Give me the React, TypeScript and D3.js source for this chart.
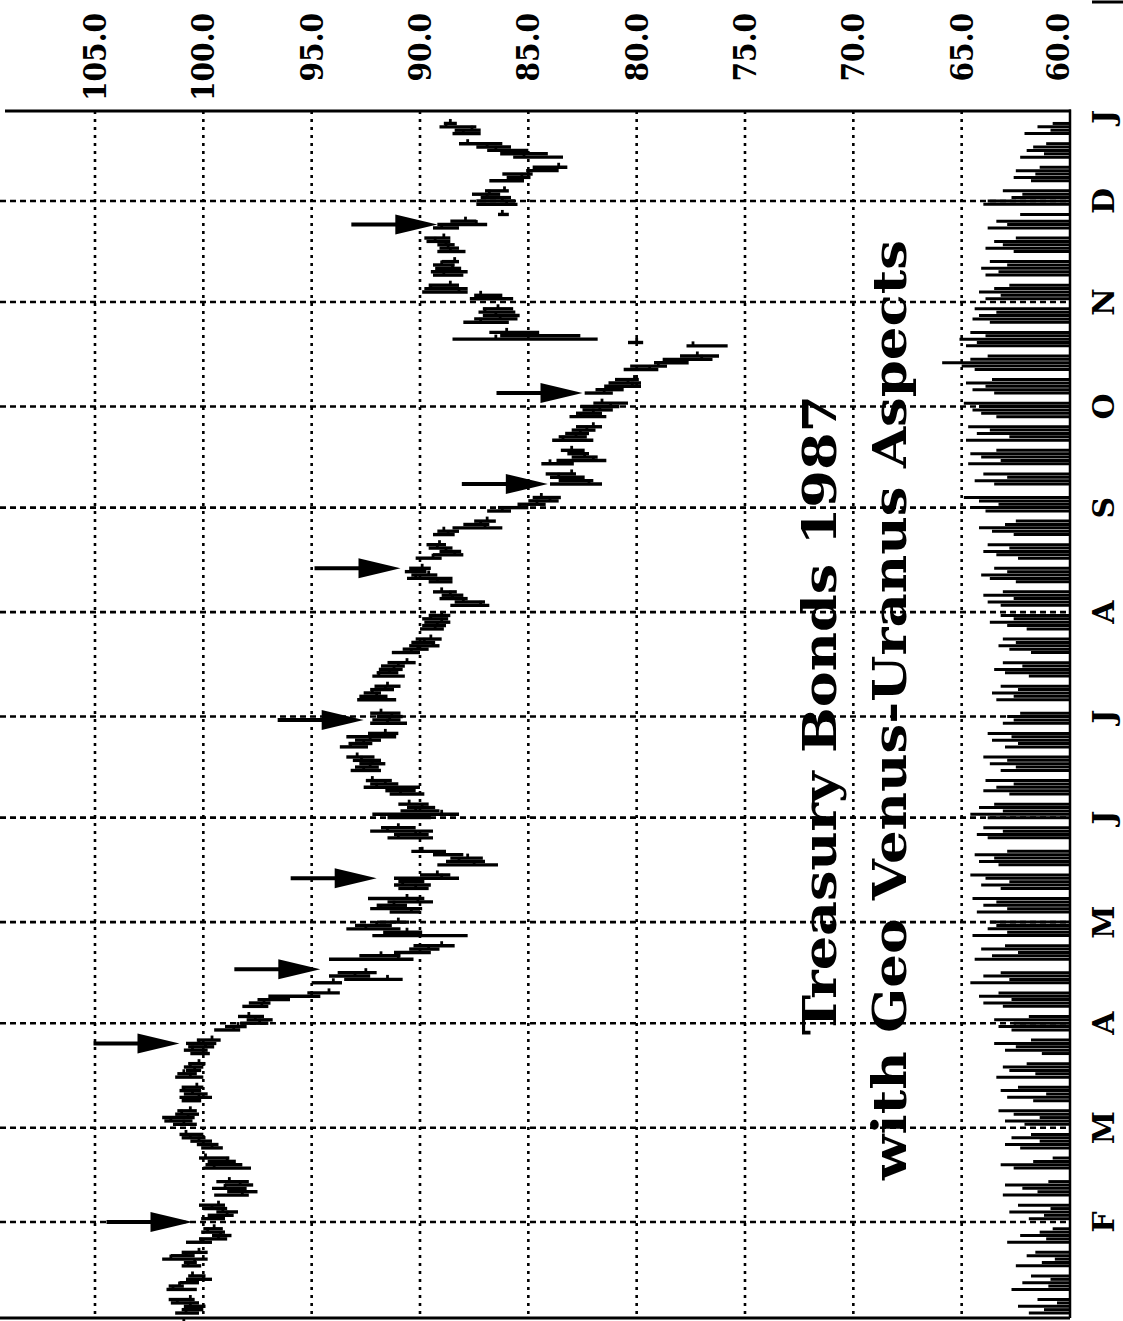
import React from "react";
import * as d3 from "d3";

const W = 1123;
const H = 1321;

const priceTicks = [105, 100, 95, 90, 85, 80, 75, 70, 65, 60];
const monthLetters = ["J", "F", "M", "A", "M", "J", "J", "A", "S", "O", "N", "D", "J"];
const holidays = ["1987-01-01", "1987-02-16", "1987-04-17", "1987-05-25", "1987-07-03", "1987-09-07", "1987-11-26", "1987-12-25"];
const firstDay = "1987-01-02";
const lastDay = "1987-12-24";
const titleLines = ["Treasury Bonds 1987", "with Geo Venus-Uranus Aspects"];

// daily bars per month: [low, high, close]
const jan = [[100.5,101.2,100.9],[100.2,101.3,100.8],[100.0,101.0,100.3],[99.9,100.9,100.6],[100.2,101.5,101.2],[100.4,101.6,100.6],[100.3,101.7,101.4],[100.9,101.6,101.1],[100.2,101.1,100.4],[99.6,100.8,100.0],[99.9,100.7,100.5],[100.1,101.0,100.7],[100.3,100.9,100.4],[99.8,101.9,101.5],[100.4,101.5,100.8],[99.8,101.0,100.2],[99.6,100.8,100.1],[98.9,100.2,99.3],[98.7,99.6,99.2],[99.0,100.1,99.8],[99.1,100.0,99.5]];
const feb = [[99.0,100.1,99.4],[98.6,99.8,98.9],[98.4,99.4,99.1],[98.9,100.0,99.6],[99.0,100.2,99.3],[97.9,99.5,98.2],[97.5,98.9,98.7],[98.0,99.6,99.0],[97.7,99.0,98.3],[97.9,99.4,98.8],[97.8,100.0,99.5],[98.2,99.9,99.7],[98.5,99.8,98.9],[98.8,100.2,99.9],[99.1,100.1,99.6],[99.3,100.3,100.0],[99.6,100.6,100.2],[99.9,101.0,100.6],[100.0,101.1,100.8]];
const mar = [[100.3,101.4,100.9],[100.5,101.8,101.5],[100.4,101.9,100.7],[100.2,101.3,101.0],[100.3,101.2,100.6],[100.1,101.0,100.8],[99.6,101.1,100.2],[99.8,100.9,100.5],[100.1,101.1,100.9],[100.0,101.0,100.3],[100.0,101.3,100.6],[100.3,101.2,100.9],[100.1,100.8,100.4],[100.0,100.9,100.6],[99.9,100.7,100.2],[99.7,100.6,100.0],[99.8,100.9,100.5],[99.5,100.7,99.9],[99.4,100.8,100.2],[99.2,100.3,99.6],[98.3,99.5,98.6],[98.0,99.0,98.4]];
const apr = [[97.0,98.3,97.4],[96.8,98.0,97.6],[97.2,98.4,97.9],[97.0,98.2,97.3],[96.9,97.9,97.2],[96.0,97.5,96.3],[94.6,97.0,95.0],[93.7,95.2,94.2],[93.6,95.0,94.0],[90.8,93.5,91.5],[92.3,94.2,93.0],[92.0,93.8,92.5],[90.3,94.2,91.0],[90.9,92.8,91.8],[89.5,91.2,90.0],[89.1,90.5,89.6],[88.4,90.3,89.0],[87.8,92.2,90.8],[89.9,91.7,90.6],[90.9,93.4,92.5],[91.3,93.0,92.0]];
const may = [[90.5,92.0,91.0],[90.0,91.4,90.4],[89.9,92.3,91.8],[90.6,92.0,91.2],[89.4,91.5,90.1],[89.8,92.4,90.6],[89.6,91.0,90.2],[89.5,91.2,90.8],[89.8,91.0,90.0],[88.2,91.2,89.0],[88.6,90.0,89.2],[86.4,89.2,87.5],[87.0,88.8,88.2],[87.1,88.6,87.8],[88.0,89.4,89.0],[88.8,90.4,89.9],[89.4,91.5,91.0],[89.6,91.2,90.2],[89.4,92.3,91.5],[90.2,91.8,91.0]];
const jun = [[89.5,91.5,90.8],[88.2,92.2,89.0],[89.1,90.9,90.2],[89.3,90.6,89.9],[89.6,91.0,90.5],[89.8,91.4,90.9],[90.2,91.6,91.2],[90.0,92.6,92.0],[91.0,92.3,91.6],[91.3,92.5,92.2],[91.8,93.2,92.6],[91.9,93.0,92.3],[91.6,92.8,92.2],[91.8,93.1,92.7],[92.1,93.4,92.9],[92.4,93.7,93.2],[92.2,93.3,92.6],[91.8,93.0,92.3],[91.1,93.4,91.7],[91.0,92.4,91.6],[90.6,92.3,91.5],[90.9,92.2,91.4]];
const jul = [[90.8,92.0,91.3],[90.9,92.3,91.8],[91.1,92.9,92.4],[91.5,92.8,92.0],[91.8,92.6,92.2],[91.2,92.3,91.6],[90.9,92.1,91.5],[90.7,92.2,91.9],[91.0,92.0,91.4],[90.8,91.9,91.2],[90.7,91.8,91.0],[90.2,91.5,90.6],[90.0,91.3,90.4],[89.6,90.8,90.1],[89.1,90.5,89.4],[89.3,90.4,89.8],[89.0,90.2,89.5],[88.9,90.0,89.3],[88.8,89.9,89.2],[88.6,89.8,89.0],[88.7,89.9,89.5],[88.6,89.6,89.0]];
const aug = [[86.8,88.6,87.2],[87.0,88.4,88.0],[87.8,89.1,88.5],[88.0,89.0,88.6],[88.3,89.4,89.0],[88.5,89.6,89.2],[88.5,90.6,90.2],[89.2,90.4,89.6],[89.7,90.7,90.3],[89.5,90.5,89.9],[89.0,90.2,89.4],[88.0,89.4,88.4],[88.1,89.1,88.8],[88.5,89.6,89.2],[88.8,89.7,89.1],[88.4,89.4,88.7],[88.2,89.2,88.9],[86.2,88.5,87.0],[86.8,88.0,87.2],[86.5,87.5,86.9],[85.8,86.9,86.2]];
const sep = [[85.0,86.4,85.4],[84.2,85.5,84.6],[83.6,85.0,84.0],[83.5,84.8,84.4],[81.6,84.0,82.2],[82.0,83.6,83.2],[82.4,84.0,83.6],[82.8,84.2,83.0],[82.9,84.4,84.0],[81.4,83.7,82.0],[81.8,83.0,82.4],[82.2,83.2,82.7],[82.4,83.5,83.0],[82.0,83.9,83.4],[82.3,83.6,82.8],[82.2,83.3,82.6],[81.9,83.0,82.3],[81.6,82.8,82.0],[81.4,83.1,82.6],[81.6,82.8,82.0],[81.1,82.5,81.7]];
const oct = [[80.8,82.6,81.2],[80.4,82.0,81.6],[81.1,82.4,81.5],[80.6,81.9,81.0],[79.8,81.5,80.2],[79.8,81.3,80.4],[79.9,81.0,80.1],[79.0,80.6,79.4],[78.6,80.3,79.0],[77.6,79.2,77.8],[76.5,78.8,77.0],[76.2,78.0,77.2],[75.8,77.7,77.4],[79.7,80.4,80.0],[81.8,88.5,86.5],[82.6,86.3,85.0],[84.5,86.8,86.0],[85.9,88.0,87.2],[85.5,87.5,86.3],[85.4,87.1,86.5],[85.6,87.3,87.0],[85.7,87.1,86.4]];
const nov = [[85.7,87.7,86.5],[86.2,87.5,87.2],[87.8,89.9,88.2],[87.8,89.8,89.5],[88.2,89.6,88.6],[88.0,89.4,88.9],[87.8,89.5,89.2],[88.1,89.3,88.5],[88.4,89.4,89.0],[88.2,89.0,88.4],[87.9,89.2,88.6],[88.2,89.1,88.7],[88.4,89.2,88.8],[88.6,89.7,89.3],[88.6,89.8,88.9],[88.2,89.4,89.0],[86.9,89.2,87.4],[87.4,88.6,87.9],[85.9,86.4,86.2],[85.5,87.4,86.0]];
const dec = [[85.6,87.4,86.2],[85.8,87.2,86.9],[86.3,87.6,86.8],[85.9,87.0,86.1],[85.2,86.8,85.6],[84.9,86.0,85.3],[84.8,86.2,85.0],[83.6,85.1,84.0],[83.2,84.8,83.6],[83.4,85.7,85.2],[84.1,86.3,85.9],[85.0,86.9,86.5],[85.8,87.4,86.9],[86.2,88.2,87.8],[87.2,88.5,88.0],[87.2,88.4,87.6],[87.4,89.1,88.8],[88.3,88.9,88.6]];
const monthBars = [jan, feb, mar, apr, may, jun, jul, aug, sep, oct, nov, dec];

// lower panel indicator (left end of each line, on the price scale)
const indJan = [60.8,61.9,61.2,62.4,60.6,61.5,62.7,61.0,62.2,60.9,61.8,62.5,61.3,60.7,62.0,61.6,62.9,61.1,62.3,61.4,60.8];
const indFeb = [61.9,61.2,62.8,60.9,62.4,63.1,61.5,62.2,63.0,61.0,62.6,63.2,61.7,60.8,62.3,63.0,61.4,62.7,61.8];
const indMar = [62.1,63.0,61.4,62.6,63.3,61.7,62.9,61.1,63.2,62.4,63.4,61.6,62.8,63.1,62.0,61.3,63.0,62.5,63.5,61.8,62.7,63.3];
const indApr = [62.6,63.5,61.9,63.1,64.0,62.7,64.2,63.3,64.6,62.8,64.0,63.2,64.4,63.6,62.4,64.1,63.0,64.5,62.9,63.8,63.4];
const indMay = [63.7,64.3,62.9,64.0,63.4,64.5,63.2,64.1,62.8,63.9,64.6,63.3,64.2,63.5,64.4,62.9,63.8,64.3,63.1,64.0];
const indJun = [63.8,64.6,63.1,64.2,63.5,62.8,64.0,63.4,62.6,63.9,63.2,62.5,63.7,62.9,64.0,63.0,62.4,63.6,62.7,63.8,63.1,62.6];
const indJul = [62.9,62.3,63.4,62.6,63.6,62.4,63.2,61.9,63.0,63.5,62.2,63.1,61.8,62.8,63.3,62.5,63.1,62.0,62.9,63.7,62.6,63.2];
const indAug = [63.2,63.8,62.6,64.0,63.1,62.5,63.7,64.1,62.9,63.5,62.4,63.4,64.0,62.8,63.8,62.6,63.6,64.2,63.0,62.5,63.9];
const indSep = [64.6,63.3,64.2,64.9,63.5,64.4,62.9,64.0,64.7,63.2,64.1,64.6,63.4,64.8,62.8,64.3,63.7,64.7,63.4,64.1,64.5];
const indOct = [64.2,64.9,63.5,64.5,63.9,64.8,63.6,64.4,65.0,65.9,64.6,63.8,64.8,64.3,65.1,63.9,64.6,63.7,64.5,64.2,63.4,64.4];
const indNov = [63.9,63.2,64.2,63.5,62.8,63.9,63.3,64.1,62.9,63.7,62.6,63.9,63.1,63.5,62.5,63.8,62.9,63.4,62.3,64.0];
const indDec = [63.8,62.7,62.2,63.1,61.8,62.6,61.6,62.5,61.4,62.3,61.2,62.0,61.7,61.1,62.1,60.9,61.5,60.8];
const monthInd = [indJan, indFeb, indMar, indApr, indMay, indJun, indJul, indAug, indSep, indOct, indNov, indDec];

// aspect arrows: date, price at the arrow tip
const arrowDates = ["1987-02-01", "1987-03-26", "1987-04-17", "1987-05-14", "1987-06-30", "1987-08-14", "1987-09-08", "1987-10-05", "1987-11-24"];
const arrowPrices = [100.5, 101.1, 94.6, 92.0, 92.6, 90.9, 84.1, 82.5, 89.2];

const parse = d3.utcParse("%Y-%m-%d");

function tradingDays() {
  const hol = new Set(holidays);
  const days = d3.utcDay.range(parse(firstDay)!, d3.utcDay.offset(parse(lastDay)!, 1));
  return days.filter((d) => {
    const wd = d.getUTCDay();
    return wd !== 0 && wd !== 6 && !hol.has(d3.utcFormat("%Y-%m-%d")(d));
  });
}

export default function App() {
  const plotTop = 111;
  const plotBottom = 1318;
  const x = d3.scaleLinear().domain([105, 60]).range([95, 1070]);
  const y = d3
    .scaleUtc()
    .domain([new Date(Date.UTC(1987, 0, 1)), new Date(Date.UTC(1988, 0, 1))])
    .range([1326.5, 96.5]);

  const days = tradingDays();
  const byMonth = d3.groups(days, (d) => d.getUTCMonth());
  const bars: { d: Date; lo: number; hi: number; c: number; ind: number }[] = [];
  byMonth.forEach(([m, ds]) => {
    const vals = monthBars[m];
    const inds = monthInd[m];
    ds.forEach((d, i) => {
      if (i < vals.length) {
        bars.push({ d, lo: vals[i][0], hi: vals[i][1], c: vals[i][2], ind: inds[Math.min(i, inds.length - 1)] });
      }
    });
  });

  const months = d3.utcMonth.range(new Date(Date.UTC(1987, 1, 1)), new Date(Date.UTC(1988, 0, 2)));
  const serif = "'DejaVu Serif', serif";

  return (
    <svg width={W} height={H} style={{ position: "absolute", left: 0, top: 0, background: "#fff" }} fontFamily={serif}>
      <rect x={0} y={0} width={W} height={H} fill="#fff" />
      {/* vertical dotted price grid */}
      {priceTicks.filter((p) => p !== 60).map((p) => (
        <line key={"vg" + p} x1={x(p)} x2={x(p)} y1={plotTop} y2={plotBottom} stroke="#000" strokeWidth={2.6} strokeDasharray="3,5" />
      ))}
      {/* horizontal dashed month grid */}
      {months.filter((m) => m.getUTCFullYear() === 1987).map((m) => (
        <line key={"hg" + m.getTime()} x1={0} x2={x(60)} y1={y(m)} y2={y(m)} stroke="#000" strokeWidth={2.6} strokeDasharray="6,4" />
      ))}
      {/* frame */}
      <line x1={5} x2={x(60) + 1} y1={plotTop} y2={plotTop} stroke="#000" strokeWidth={3} />
      <line x1={x(60)} x2={x(60)} y1={plotTop - 1.5} y2={plotBottom} stroke="#000" strokeWidth={2.5} />
      <line x1={0} x2={x(60)} y1={plotBottom} y2={plotBottom} stroke="#000" strokeWidth={3} />
      <line x1={1092} x2={W} y1={2} y2={2} stroke="#000" strokeWidth={3} />

      {/* indicator lines */}
      {bars.map((b, i) => (
        <line key={"ind" + i} x1={x(b.ind)} x2={x(60)} y1={y(b.d)} y2={y(b.d)} stroke="#000" strokeWidth={3} />
      ))}

      {/* price bars */}
      {bars.map((b, i) => (
        <g key={"b" + i}>
          <line x1={x(b.lo)} x2={x(b.hi)} y1={y(b.d)} y2={y(b.d)} stroke="#000" strokeWidth={3.4} />
          <line x1={x(b.c)} x2={x(b.c)} y1={y(b.d)} y2={y(b.d) - 4.5} stroke="#000" strokeWidth={2.8} />
        </g>
      ))}

      {/* arrows */}
      {arrowDates.map((ds, i) => {
        const yy = y(parse(ds)!);
        const tx = x(arrowPrices[i]);
        return (
          <g key={"a" + i}>
            <line x1={tx - 86} x2={tx - 38} y1={yy} y2={yy} stroke="#000" strokeWidth={4} />
            <path d={`M${tx},${yy} L${tx - 42},${yy - 10} L${tx - 42},${yy + 10} Z`} fill="#000" />
          </g>
        );
      })}

      {/* price labels */}
      {priceTicks.map((p) => {
        const label = p.toFixed(1);
        const len = (label.length - 1) * 19.5 + 10;
        return (
          <text
            key={"pl" + p}
            transform={`translate(${x(p) - (p === 60 ? 12 : 0)},13) rotate(-90)`}
            textAnchor="end"
            dominantBaseline="central"
            fontSize={31}
            fontWeight="bold"
            textLength={len}
            lengthAdjust="spacingAndGlyphs"
          >
            {label}
          </text>
        );
      })}

      {/* month labels */}
      {months.map((m, i) => {
        const yy = Math.max(y(m), plotTop + 6);
        return (
          <text
            key={"ml" + i}
            transform={`translate(1103,${yy}) rotate(-90)`}
            textAnchor="middle"
            dominantBaseline="central"
            fontSize={30}
            fontWeight="bold"
          >
            {monthLetters[m.getUTCMonth() + (m.getUTCFullYear() === 1988 ? 12 : 0)]}
          </text>
        );
      })}

      {/* title */}
      <text transform="translate(836,715) rotate(-90)" textAnchor="middle" fontSize={47} fontWeight="bold" textLength={640} lengthAdjust="spacingAndGlyphs">
        {titleLines[0]}
      </text>
      <text transform="translate(906,710) rotate(-90)" textAnchor="middle" fontSize={47} fontWeight="bold" textLength={940} lengthAdjust="spacingAndGlyphs">
        {titleLines[1]}
      </text>
    </svg>
  );
}
